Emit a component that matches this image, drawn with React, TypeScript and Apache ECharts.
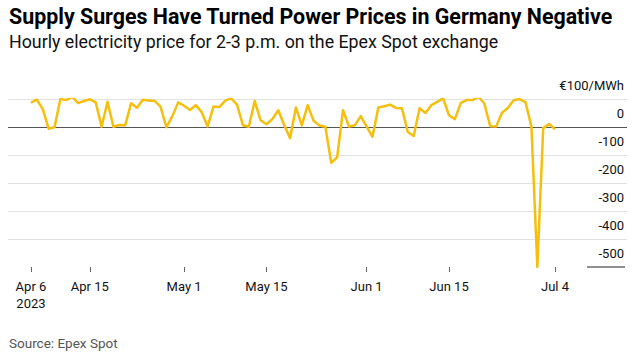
import React, { useEffect, useRef } from "react";
import * as echarts from "echarts";

const TITLE = "Supply Surges Have Turned Power Prices in Germany Negative";
const SUBTITLE = "Hourly electricity price for 2-3 p.m. on the Epex Spot exchange";
const SOURCE = "Source: Epex Spot";

// one value per day, starting on START_DATE (EUR/MWh, 2-3 p.m. hour)
const START_DATE = "2023-04-06";
const prices = [
  87, 98, 64, -6, -1, 100, 96, 108, 85, 93,
  99, 88, 1, 90, 1, 7, 6, 85, 69, 97,
  95, 93, 73, -1, 38, 88, 76, 61, 78, 53,
  2, 73, 71, 94, 102, 80, 6, 1, 93, 24,
  10, 28, 60, 8, -40, 70, 6, 78, 22, 5,
  1, -128, -108, 60, 2, 6, 39, 2, -35, 70,
  74, 80, 68, 67, -18, -32, 67, 50, 78, 90,
  102, 42, 28, 86, 96, 96, 108, 84, 3, 2,
  51, 68, 96, 100, 88, 2, -500, -4, 11, -8,
];

// x-axis ticks (Bloomberg marks a calendar day at its end; first tick sits on the first point)
const tickDates = ["2023-04-06", "2023-04-16", "2023-05-02", "2023-05-16", "2023-06-02", "2023-06-16", "2023-07-04"];
const tickLabels = ["Apr 6\n2023", "Apr 15", "May 1", "May 15", "Jun 1", "Jun 15", "Jul 4"];

const yMin = -500;
const yMax = 100;
const yStep = 100;
const yUnitLabel = "€100/MWh";

const DAY = 86400000;

export default function App() {
  const ref = useRef<HTMLDivElement>(null);
  useEffect(() => {
    if (!ref.current) return;
    const chart = echarts.init(ref.current, undefined, { renderer: "svg" });
    const t0 = Date.parse(START_DATE + "T00:00:00Z");
    // x is measured in days since START_DATE
    const data = prices.map((v, i) => [i, v]);
    const tickDays = tickDates.map((d) => Math.round((Date.parse(d + "T00:00:00Z") - t0) / DAY));
    const labelMap = new Map<number, string>();
    tickDays.forEach((t, i) => labelMap.set(t, tickLabels[i]));
    const font = "Roboto, 'Liberation Sans', Arial, sans-serif";

    chart.setOption({
      animation: false,
      backgroundColor: "#ffffff",
      title: [
        {
          text: TITLE,
          left: 4,
          top: 1,
          textStyle: { fontFamily: font, fontSize: 21.4, fontWeight: 700, color: "#000" },
        },
        {
          text: SUBTITLE,
          left: 4,
          top: 27,
          textStyle: { fontFamily: font, fontSize: 17.8, fontWeight: 400, color: "#111" },
        },
        {
          text: SOURCE,
          left: 4,
          top: 331,
          textStyle: { fontFamily: font, fontSize: 13.5, fontWeight: 400, color: "#555" },
        },
      ],
      grid: { left: 8, right: 10, top: 99, bottom: 90, containLabel: false },
      xAxis: {
        type: "value",
        min: -3.9,
        max: 101.23,
        axisLine: { show: false, onZero: false },
        splitLine: { show: false },
        axisTick: {
          show: true,
          customValues: tickDays,
          length: 5,
          lineStyle: { color: "#666", width: 1 },
        },
        axisLabel: {
          customValues: tickDays,
          formatter: (v: number) => labelMap.get(v) ?? "",
          fontFamily: font,
          fontSize: 13,
          lineHeight: 17,
          color: "#111",
          margin: 11,
        },
      },
      yAxis: {
        type: "value",
        position: "right",
        min: yMin,
        max: yMax,
        interval: yStep,
        axisLine: { show: false },
        axisTick: { show: false },
        splitLine: {
          show: true,
          lineStyle: {
            color: ["rgba(0,0,0,0)", "#e2e2e2", "#e2e2e2", "#e2e2e2", "#e2e2e2", "#555555", "#e2e2e2"],
            width: 1,
          },
        },
        axisLabel: {
          inside: true,
          align: "right",
          verticalAlign: "bottom",
          margin: 3,
          padding: [0, 0, 7, 0],
          fontFamily: font,
          fontSize: 13,
          color: "#111",
          formatter: (v: number) => (v === yMax ? yUnitLabel : String(v)),
        },
      },
      graphic: [
        {
          type: "line",
          shape: { x1: 587, y1: 267, x2: 625, y2: 267 },
          style: { stroke: "#222", lineWidth: 1 },
        },
      ],
      series: [
        {
          type: "line",
          data,
          showSymbol: false,
          symbol: "none",
          lineStyle: { color: "#f6bf0e", width: 2.5, join: "round" },
          z: 5,
        },
      ],
    });
    return () => chart.dispose();
  }, []);
  return (
    <div
      ref={ref}
      style={{ position: "fixed", left: 0, top: 0, width: 637, height: 357, background: "#fff" }}
    />
  );
}
